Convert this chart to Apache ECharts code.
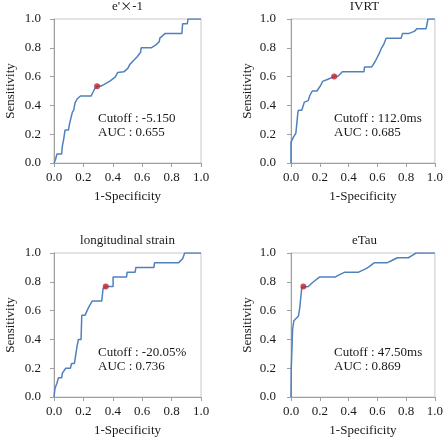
<!DOCTYPE html>
<html>
<head>
<meta charset="utf-8">
<script src="https://cdn.jsdelivr.net/npm/echarts@6/dist/echarts.min.js"></script>
<style>
  html, body { margin: 0; padding: 0; background: #fff; }
  #chart { width: 446px; height: 438px; }
</style>
</head>
<body>
<div id="chart"></div>
<script>
// ROC curves: x = 1-Specificity, y = Sensitivity
const ePrimeFpr = [0, 0.007, 0.011, 0.02, 0.052, 0.057, 0.066, 0.075, 0.098, 0.107, 0.125, 0.134, 0.143, 0.157, 0.18, 0.252, 0.266, 0.275, 0.293, 0.316, 0.339, 0.38, 0.416, 0.434, 0.475, 0.502, 0.516, 0.543, 0.566, 0.589, 0.593, 0.661, 0.693, 0.716, 0.72, 0.757, 0.87, 0.875, 0.907, 0.911, 1]
const ePrimeTpr = [0, 0, 0.026, 0.063, 0.063, 0.119, 0.166, 0.229, 0.229, 0.278, 0.353, 0.367, 0.418, 0.444, 0.465, 0.465, 0.493, 0.512, 0.533, 0.533, 0.544, 0.568, 0.596, 0.629, 0.633, 0.657, 0.685, 0.713, 0.738, 0.769, 0.8, 0.8, 0.82, 0.843, 0.867, 0.9, 0.9, 0.967, 0.967, 1, 1]

const ivrtFpr = [0, 0, 0.016, 0.034, 0.048, 0.052, 0.075, 0.093, 0.102, 0.12, 0.13, 0.148, 0.18, 0.207, 0.22, 0.252, 0.3, 0.325, 0.357, 0.507, 0.511, 0.561, 0.584, 0.616, 0.63, 0.643, 0.661, 0.766, 0.775, 0.82, 0.857, 0.875, 0.939, 0.952, 1]
const ivrtTpr = [0, 0.143, 0.178, 0.208, 0.353, 0.367, 0.367, 0.423, 0.433, 0.433, 0.467, 0.5, 0.5, 0.54, 0.567, 0.58, 0.6, 0.6, 0.633, 0.633, 0.667, 0.667, 0.703, 0.767, 0.8, 0.82, 0.867, 0.867, 0.9, 0.9, 0.914, 0.933, 0.933, 1, 1]

const strainFpr = [0, 0.007, 0.02, 0.03, 0.052, 0.057, 0.08, 0.111, 0.12, 0.139, 0.148, 0.157, 0.166, 0.184, 0.189, 0.211, 0.225, 0.239, 0.261, 0.325, 0.334, 0.352, 0.375, 0.402, 0.402, 0.493, 0.498, 0.552, 0.557, 0.68, 0.684, 0.848, 0.875, 0.889, 1]
const strainTpr = [0, 0.061, 0.096, 0.133, 0.133, 0.166, 0.2, 0.2, 0.233, 0.233, 0.294, 0.353, 0.4, 0.4, 0.567, 0.567, 0.6, 0.629, 0.667, 0.667, 0.755, 0.767, 0.767, 0.767, 0.833, 0.833, 0.867, 0.867, 0.9, 0.9, 0.933, 0.933, 0.96, 1, 1]

const eTauFpr = [0, 0.002, 0.007, 0.011, 0.02, 0.052, 0.061, 0.075, 0.084, 0.12, 0.152, 0.198, 0.307, 0.334, 0.375, 0.47, 0.511, 0.539, 0.58, 0.67, 0.698, 0.739, 0.816, 0.843, 0.87, 1]
const eTauTpr = [0, 0.2, 0.213, 0.47, 0.53, 0.563, 0.621, 0.762, 0.767, 0.767, 0.797, 0.833, 0.833, 0.848, 0.867, 0.867, 0.886, 0.902, 0.933, 0.933, 0.946, 0.967, 0.967, 0.984, 1, 1]

// cutoff points [1-Specificity, Sensitivity]
const cutoffPoints = [[0.293, 0.533], [0.3, 0.6], [0.352, 0.767], [0.086, 0.767]]

const panelTitles = ["{t|e'}{x|×}{t|-1}", "IVRT", "longitudinal strain", "eTau"]
const cutoffLabels = ["Cutoff : -5.150", "Cutoff : 112.0ms", "Cutoff : -20.05%", "Cutoff : 47.50ms"]
const aucLabels = ["AUC : 0.655", "AUC : 0.685", "AUC : 0.736", "AUC : 0.869"]

const fprList = [ePrimeFpr, ivrtFpr, strainFpr, eTauFpr]
const tprList = [ePrimeTpr, ivrtTpr, strainTpr, eTauTpr]

const font = "'Liberation Serif', 'Times New Roman', serif"
const textColor = "#1a1a1a"
const lineColor = "#4f81bd"
const dotColor = "#c0202a"

// panel layout (pixels)
const panels = [
  { left: 54, top: 19 },
  { left: 291, top: 19 },
  { left: 54, top: 253 },
  { left: 291, top: 253 },
]
const plotW = 147
const plotH = 144

const grid = panels.map((p) => ({
  left: p.left,
  top: p.top,
  width: plotW,
  height: plotH,
  show: true,
  borderColor: "#c8c8c8",
  borderWidth: 1,
  backgroundColor: "transparent",
}))

const axisCommon = {
  type: "value",
  min: 0,
  max: 1,
  interval: 0.2,
  nameLocation: "middle",
  nameTextStyle: { fontFamily: font, fontSize: 13, color: textColor },
  axisLine: { show: true, lineStyle: { color: "#a0a0a0", width: 1 } },
  axisTick: { show: true, length: 4, lineStyle: { color: "#a0a0a0" } },
  splitLine: { show: false },
}

const labelStyle = (margin) => ({
  fontFamily: font,
  fontSize: 13,
  color: textColor,
  margin: margin,
  formatter: (v) => v.toFixed(1),
})

const xAxis = panels.map((p, i) => ({
  ...axisCommon,
  gridIndex: i,
  name: "1-Specificity",
  nameGap: 27,
  axisLabel: labelStyle(8),
}))

const yAxis = panels.map((p, i) => ({
  ...axisCommon,
  gridIndex: i,
  name: "Sensitivity",
  nameGap: 37,
  axisLabel: labelStyle(i % 2 === 0 ? 13 : 15),
}))

const series = []
fprList.forEach((fpr, i) => {
  series.push({
    type: "line",
    xAxisIndex: i,
    yAxisIndex: i,
    data: fpr.map((x, j) => [x, tprList[i][j]]),
    symbol: "none",
    lineStyle: { color: lineColor, width: 1.5 },
    silent: true,
    z: 2,
  })
  series.push({
    type: "scatter",
    xAxisIndex: i,
    yAxisIndex: i,
    data: [cutoffPoints[i]],
    symbol: "circle",
    symbolSize: 6,
    itemStyle: { color: dotColor },
    z: 3,
  })
})

const titleStyle = { fontFamily: font, fontSize: 13, fontWeight: "normal", color: textColor }
const title = panels.map((p, i) => ({
  text: panelTitles[i],
  left: p.left + plotW / 2,
  top: p.top - 19,
  textAlign: "center",
  padding: 0,
  textStyle: {
    ...titleStyle,
    rich: {
      t: titleStyle,
      x: { ...titleStyle, fontFamily: "'Noto Sans CJK JP', sans-serif", fontSize: 12 },
    },
  },
}))

const graphic = panels.map((p, i) => ({
  type: "text",
  left: p.left + (i % 2 === 0 ? 44 : 43),
  top: p.top + 93,
  style: {
    text: cutoffLabels[i] + "\n" + aucLabels[i],
    font: "13px " + font,
    fill: textColor,
    lineHeight: 14,
  },
}))

const chart = echarts.init(document.getElementById("chart"))
chart.setOption({
  animation: false,
  backgroundColor: "#fff",
  title,
  grid,
  xAxis,
  yAxis,
  series,
  graphic,
})
</script>
</body>
</html>
